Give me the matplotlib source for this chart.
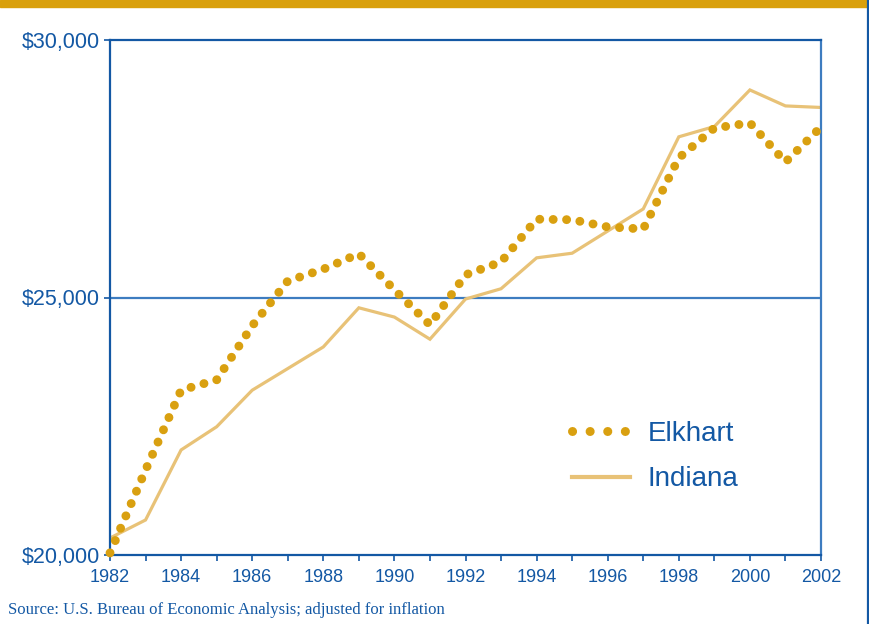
import matplotlib
matplotlib.use("Agg")
import matplotlib.pyplot as plt
from matplotlib.lines import Line2D
from matplotlib.patches import Rectangle

years = list(range(1982, 2003))
elkhart = [20040, 21650, 23200, 23400, 24450, 25320, 25550, 25850, 25150, 24470,
           25440, 25690, 26520, 26510, 26370, 26330, 27710, 28290, 28390, 27630, 28310]
indiana = [20330, 20680, 22040, 22490, 23200, 23620, 24040, 24800, 24620, 24190,
           24970, 25170, 25770, 25860, 26290, 26720, 28120, 28320, 29030, 28720, 28690]
y_ticks = [20000, 25000, 30000]
y_labels = ["$20,000", "$25,000", "$30,000"]
x_label_years = list(range(1982, 2003, 2))
series_names = ["Elkhart", "Indiana"]
source_text = "Source: U.S. Bureau of Economic Analysis; adjusted for inflation"

BLUE = "#1358a4"
GRID = "#3d7cc0"
GOLD = "#d9a010"
LIGHT = "#e8c277"

plt.rcParams['font.family'] = ['Liberation Sans', 'DejaVu Sans']

fig = plt.figure(figsize=(8.69, 6.24), dpi=100)
W, H = 869, 624
ax = fig.add_axes([110 / W, 1 - 555 / H, (821 - 110) / W, (555 - 40) / H])

ax.set_xlim(1982, 2002)
ax.set_ylim(20000, 30000)

ax.axhline(25000, color=GRID, lw=1.6, zorder=1)

ax.plot(years, indiana, color=LIGHT, lw=2.3, zorder=2, solid_joinstyle='miter')
ax.plot(years, elkhart, color=GOLD, lw=6.4, linestyle=(0, (0.01, 1.5)),
        dash_capstyle='round', zorder=3, clip_on=False)

for s in ax.spines.values():
    s.set_color(BLUE)
    s.set_linewidth(1.6)
ax.spines['right'].set_color(GRID)

ax.set_xticks(years)
ax.set_xticklabels([str(y) if y in x_label_years else "" for y in years])
ax.set_yticks(y_ticks)
ax.set_yticklabels(y_labels)
ax.tick_params(axis='x', direction='out', length=4, width=1.2, color=BLUE,
               labelcolor=BLUE, labelsize=13, pad=6)
ax.tick_params(axis='y', direction='out', length=4, width=1.2, color=BLUE,
               labelcolor=BLUE, labelsize=15.5, pad=3)

h1 = Line2D([], [], color=GOLD, lw=6.5, linestyle=(0, (0.01, 1.94)),
            dash_capstyle='round')
h2 = Line2D([], [], color=LIGHT, lw=3)
leg = ax.legend([h1, h2], series_names, loc='upper left',
                bbox_to_anchor=((572 - 110) / (821 - 110), 1 - (421 - 40) / (555 - 40)),
                frameon=False, fontsize=20, handlelength=2.1, handletextpad=0.62,
                labelspacing=0.7, borderaxespad=0, borderpad=0)
for t in leg.get_texts():
    t.set_color(BLUE)

# decorative frame: gold band on top, blue rule at right
fig.patches.append(Rectangle((0, 1 - 7 / H), 867 / W, 7 / H, transform=fig.transFigure,
                             color="#d9a00c", zorder=0))
fig.add_artist(Line2D([868 / W, 868 / W], [0, 1], transform=fig.transFigure,
                      color=BLUE, lw=1.6))

fig.text(8 / W, 1 - 614 / H, source_text, family=['Liberation Serif'], fontsize=12,
         color=BLUE, ha='left', va='baseline')

fig.savefig("out.png", dpi=100)
